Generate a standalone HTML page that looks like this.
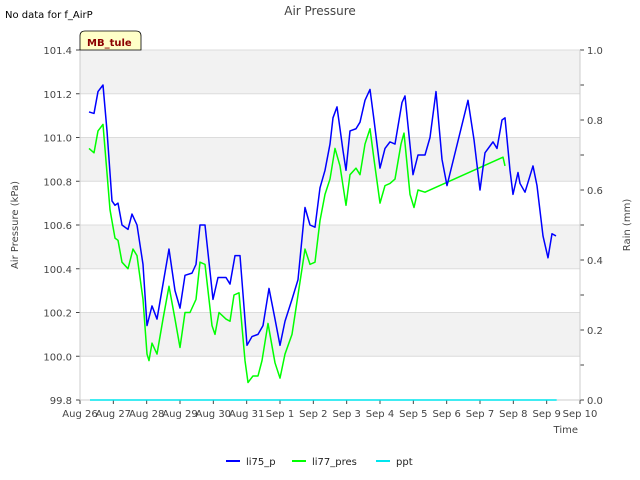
<!DOCTYPE html>
<html><head><meta charset="utf-8"><style>
body{margin:0;background:#fff;font-family:"DejaVu Sans","Liberation Sans",sans-serif;}
svg{display:block}
</style></head><body>
<svg id="chart" width="640" height="480" xmlns="http://www.w3.org/2000/svg" font-family="DejaVu Sans, Liberation Sans, sans-serif">
<text x="5" y="18" font-size="10" fill="#000">No data for f_AirP</text>
<text x="320" y="15" font-size="12" fill="#444" text-anchor="middle">Air Pressure</text>
<g id="plot"></g>
<g>
<path d="M80,50 L80,36 Q80,31 85,31 L136,31 Q141,31 141,36 L141,50 Z" fill="#ffffc8" stroke="#000" stroke-width="0.8"/>
<text x="87" y="46" font-size="10" font-weight="bold" fill="#8b0000">MB_tule</text>
</g>
<text x="18" y="225" font-size="10" fill="#444" text-anchor="middle" transform="rotate(-90 18 225)">Air Pressure (kPa)</text>
<text x="630" y="225" font-size="10" fill="#444" text-anchor="middle" transform="rotate(-90 630 225)">Rain (mm)</text>
<text x="578" y="433" font-size="10" fill="#444" text-anchor="end">Time</text>
<g>
<g><line x1="226" y1="461" x2="240" y2="461" stroke="#0000ff" stroke-width="2"/><text x="246" y="465" font-size="10" fill="#222">li75_p</text></g>
<g><line x1="292" y1="461" x2="306" y2="461" stroke="#00ff00" stroke-width="2"/><text x="312" y="465" font-size="10" fill="#222">li77_pres</text></g>
<g><line x1="376" y1="461" x2="390" y2="461" stroke="#00e5ee" stroke-width="2"/><text x="396" y="465" font-size="10" fill="#222">ppt</text></g>
</g>
</svg>
<script>
const xTickLabels=["Aug 26","Aug 27","Aug 28","Aug 29","Aug 30","Aug 31","Sep 1","Sep 2","Sep 3","Sep 4","Sep 5","Sep 6","Sep 7","Sep 8","Sep 9","Sep 10"];
const yTicks=[99.8,100.0,100.2,100.4,100.6,100.8,101.0,101.2,101.4];
const y2Ticks=[0.0,0.2,0.4,0.6,0.8,1.0];
const li75Days=[.27,.42,.54,.69,.81,.96,1.05,1.14,1.26,1.44,1.56,1.71,1.89,2.01,2.16,2.31,2.49,2.67,2.85,3.0,3.15,3.36,3.48,3.6,3.75,3.99,4.14,4.38,4.5,4.65,4.8,5.01,5.16,5.34,5.49,5.67,5.85,6.0,6.15,6.36,6.54,6.75,6.9,7.05,7.2,7.35,7.5,7.59,7.71,7.89,7.98,8.1,8.28,8.4,8.55,8.7,8.82,9.0,9.15,9.3,9.45,9.66,9.75,9.99,10.14,10.35,10.5,10.68,10.86,11.01,11.64,11.82,12.0,12.15,12.39,12.51,12.66,12.75,12.9,12.99,13.14,13.2,13.35,13.59,13.71,13.89,14.04,14.16,14.28];
const li75Values=[101.117,101.11,101.21,101.24,101.03,100.71,100.69,100.70,100.60,100.58,100.65,100.60,100.42,100.14,100.23,100.17,100.33,100.49,100.30,100.22,100.37,100.38,100.42,100.60,100.60,100.26,100.36,100.36,100.33,100.46,100.46,100.05,100.09,100.10,100.14,100.31,100.17,100.05,100.16,100.26,100.35,100.68,100.60,100.59,100.77,100.85,100.97,101.09,101.14,100.94,100.85,101.03,101.04,101.07,101.17,101.22,101.08,100.86,100.95,100.98,100.97,101.16,101.19,100.83,100.92,100.92,101.00,101.21,100.90,100.78,101.17,100.99,100.76,100.93,100.98,100.95,101.08,101.09,100.85,100.74,100.84,100.79,100.75,100.87,100.78,100.55,100.45,100.56,100.55];
const li77Days=[.27,.42,.54,.69,.9,1.05,1.14,1.26,1.44,1.59,1.71,1.89,2.01,2.07,2.16,2.31,2.49,2.67,2.85,3.0,3.15,3.3,3.48,3.6,3.75,3.96,4.05,4.17,4.38,4.5,4.62,4.77,4.95,5.04,5.19,5.34,5.46,5.64,5.85,6.0,6.15,6.36,6.54,6.75,6.9,7.05,7.2,7.35,7.5,7.65,7.8,7.98,8.1,8.28,8.4,8.55,8.7,8.82,9.0,9.15,9.3,9.45,9.63,9.72,9.9,10.02,10.14,10.35,12.69,12.75];
const li77Values=[100.95,100.93,101.03,101.06,100.67,100.54,100.53,100.43,100.40,100.49,100.46,100.26,100.01,99.98,100.06,100.01,100.17,100.32,100.17,100.04,100.20,100.20,100.26,100.43,100.42,100.14,100.10,100.20,100.17,100.16,100.28,100.29,99.98,99.88,99.91,99.91,99.98,100.15,99.97,99.90,100.01,100.10,100.28,100.49,100.42,100.43,100.62,100.74,100.81,100.95,100.87,100.69,100.83,100.86,100.83,100.97,101.04,100.90,100.70,100.78,100.79,100.81,100.97,101.02,100.74,100.68,100.76,100.75,100.91,100.87];
const pptDays=[0.3,14.3];
const pptValues=[0,0];

const L=80,R=580,T=50,B=400;
const xs=d=>L+d*(R-L)/15;
const ys=v=>B-(v-99.8)*(B-T)/1.6;
const y2s=v=>B-v*(B-T);
const NS="http://www.w3.org/2000/svg";
const g=document.getElementById('plot');
function mk(tag,attrs,parent){const e=document.createElementNS(NS,tag);for(const k in attrs)e.setAttribute(k,attrs[k]);(parent||g).appendChild(e);return e;}
for(let i=0;i<yTicks.length-1;i++){
  if(i%2===1){const r=mk('rect',{x:L,y:ys(yTicks[i+1]),width:R-L,height:ys(yTicks[i])-ys(yTicks[i+1]),fill:'#f2f2f2'});
  
  }
}
yTicks.forEach(v=>{
  const l=mk('line',{x1:L,x2:R,y1:ys(v),y2:ys(v),stroke:'#dcdcdc','stroke-width':1});
  
  
  mk('line',{x1:L-4,x2:L,y1:ys(v),y2:ys(v),stroke:'#444'});
  const t=mk('text',{x:L-8,y:ys(v)+4,'font-size':10,fill:'#444','text-anchor':'end'});
  t.textContent=v.toFixed(1);
  
  
});
for(let i=0;i<=10;i++){mk('line',{x1:R,x2:R+4,y1:y2s(i/10),y2:y2s(i/10),stroke:'#444'});}
y2Ticks.forEach(v=>{
  const t=mk('text',{x:R+7,y:y2s(v)+4,'font-size':10,fill:'#444'});
  t.textContent=v.toFixed(1);
  
  
});
xTickLabels.forEach((s,i)=>{
  mk('line',{x1:xs(i),x2:xs(i),y1:B,y2:B+4,stroke:'#444'});
  const t=mk('text',{x:xs(i),y:B+17,'font-size':10,fill:'#444','text-anchor':'middle'});
  t.textContent=s;
  
  
});
mk('line',{x1:L,x2:L,y1:T,y2:B,stroke:'#ccc'});
mk('line',{x1:L,x2:R,y1:B,y2:B,stroke:'#ccc'});
mk('line',{x1:R,x2:R,y1:T,y2:B,stroke:'#ccc'});
function series(days,vals,sc,color,name){
  const p=mk('polyline',{points:days.map((d,i)=>xs(d)+','+sc(vals[i])).join(' '),fill:'none',stroke:color,'stroke-width':1.5,'stroke-linejoin':'round'});
  
  
}
series(pptDays,pptValues,y2s,'#00e5ee','ppt-line');
series(li77Days,li77Values,ys,'#00ff00','li77-pres-line');
series(li75Days,li75Values,ys,'#0000ff','li75-p-line');
</script>
</body></html>
